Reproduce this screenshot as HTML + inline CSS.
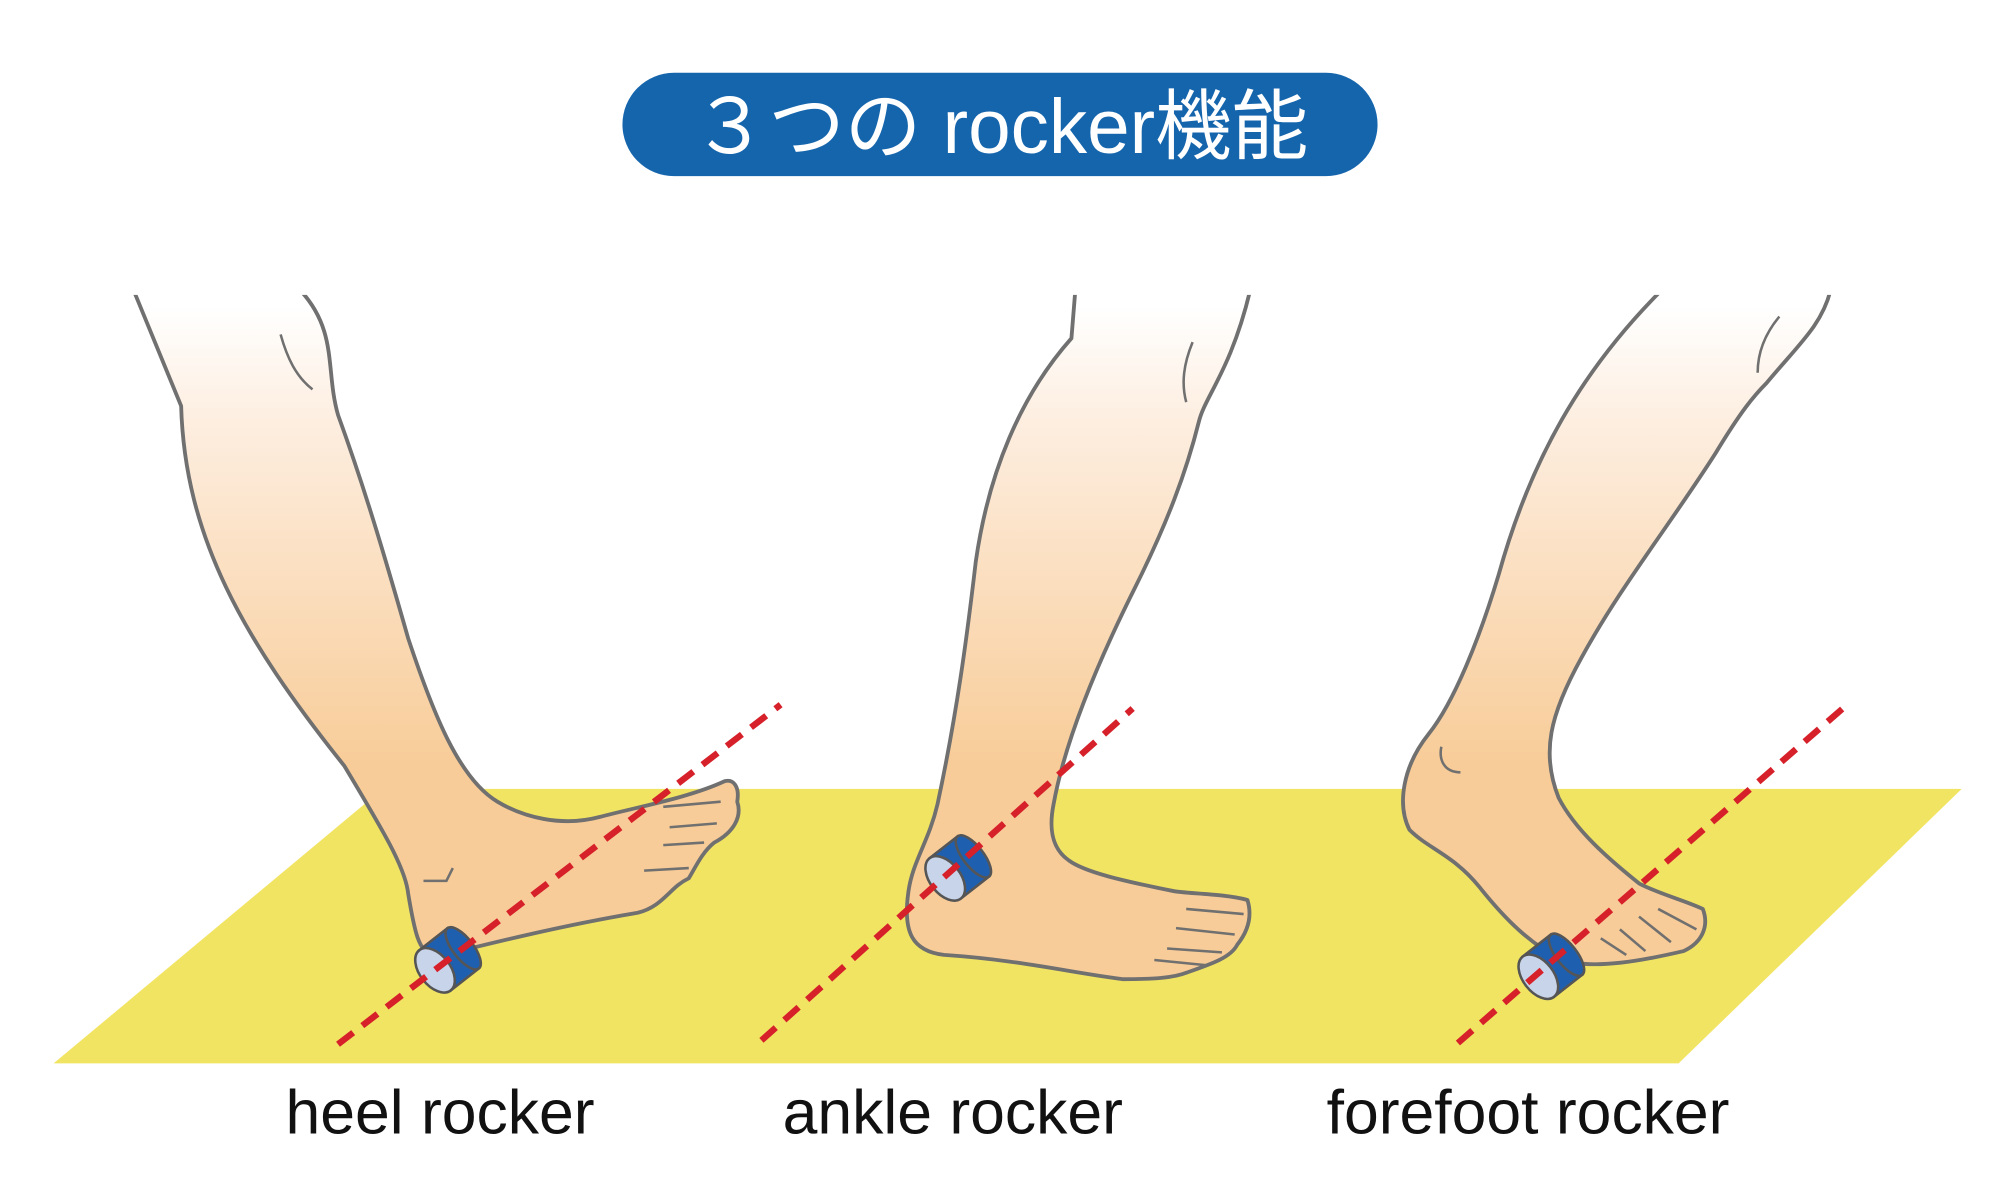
<!DOCTYPE html>
<html><head><meta charset="utf-8"><style>
html,body{margin:0;padding:0;background:#fff;}
svg{display:block;}
</style></head><body>
<svg width="2000" height="1200" viewBox="0 0 1568 940" preserveAspectRatio="none" xmlns="http://www.w3.org/2000/svg">
<defs>
<linearGradient id="g" gradientUnits="userSpaceOnUse" x1="0" y1="240" x2="0" y2="600">
<stop offset="0" stop-color="#ffffff"/>
<stop offset="0.25" stop-color="#fdeee0"/>
<stop offset="1" stop-color="#f8cc98"/>
</linearGradient>
</defs>
<rect width="1568" height="940" fill="#fff"/>
<rect x="488" y="57" width="592" height="81" rx="40.5" fill="#1565ad"/>
<text x="784" y="120" text-anchor="middle" fill="#fff" font-family="Liberation Sans, Noto Sans CJK JP, sans-serif" font-size="60">３つの rocker機能</text>
<polygon points="42,833 300,618 1538,618 1316,833" fill="#f2e463"/>

<g fill="url(#g)" stroke="#707070" stroke-width="3" stroke-linejoin="round">
<path d="M105,228 L142,318 C145,420 190,500 270,600 C300,650 318,680 320,700 C325,730 328,745 340,750 C380,740 440,725 500,715 C520,710 525,695 540,688 C545,680 550,668 560,660 C575,652 582,640 578,628 C580,616 575,610 568,612 C540,625 500,632 470,640 C440,648 410,640 390,628 C360,610 340,560 320,500 C300,430 285,380 265,325 C255,290 265,260 236,228 Z"/>
<path d="M843,228 L840,265 C800,310 775,370 765,440 C758,500 750,560 735,630 C728,660 715,675 712,700 C708,730 715,745 740,748 C800,752 840,762 880,767 C905,767 920,766 930,762 C950,755 965,750 970,740 C978,730 982,718 978,705 C960,700 930,700 920,698 C880,690 850,683 838,674 C825,665 822,650 826,630 C835,580 860,520 890,460 C915,410 930,370 940,330 C945,310 965,290 980,228 Z"/>
<path d="M1302,228 C1240,290 1200,360 1175,450 C1160,500 1140,550 1120,575 C1100,600 1095,630 1105,650 C1120,665 1140,670 1160,695 C1180,720 1200,740 1225,752 C1250,760 1290,752 1320,745 C1335,738 1340,725 1335,712 C1320,705 1300,700 1285,692 C1260,672 1235,650 1222,625 C1208,590 1215,560 1240,515 C1270,460 1310,410 1345,355 C1365,322 1375,310 1385,300 C1410,270 1428,255 1435,228 Z"/>
</g>
<rect x="90" y="210" width="1380" height="21" fill="#fff"/>
<g fill="none" stroke="#707070" stroke-width="2">
<path d="M220,262 C225,280 232,295 245,305"/>
<path d="M935,268 C928,285 926,300 930,315"/>
<path d="M1395,248 C1385,260 1378,275 1378,292"/>
<path d="M332,690 L350,690 L355,680"/>
<path d="M1130,585 C1128,595 1132,605 1145,605"/>
<path d="M520,632 L565,628 M525,648 L562,645 M520,662 L552,660 M505,682 L540,680"/>
<path d="M930,712 L975,716 M922,727 L968,732 M915,743 L958,746 M905,752 L945,756"/>
<path d="M1255,735 L1275,748 M1270,728 L1290,745 M1285,718 L1310,738 M1300,712 L1330,728"/>
</g>
<g transform="translate(345,757) rotate(-38)">
<rect x="-5" y="-20" width="28" height="40" fill="#1f5fb0" stroke="#555" stroke-width="2"/>
<ellipse cx="23" cy="0" rx="8" ry="20" fill="#1f5fb0" stroke="#555" stroke-width="2"/>
<ellipse cx="-5" cy="0" rx="12" ry="20" fill="#c8d4ea" stroke="#555" stroke-width="2"/>
</g>
<g transform="translate(745,685) rotate(-38)">
<rect x="-5" y="-20" width="28" height="40" fill="#1f5fb0" stroke="#555" stroke-width="2"/>
<ellipse cx="23" cy="0" rx="8" ry="20" fill="#1f5fb0" stroke="#555" stroke-width="2"/>
<ellipse cx="-5" cy="0" rx="12" ry="20" fill="#c8d4ea" stroke="#555" stroke-width="2"/>
</g>
<g transform="translate(1210,762) rotate(-38)">
<rect x="-5" y="-20" width="28" height="40" fill="#1f5fb0" stroke="#555" stroke-width="2"/>
<ellipse cx="23" cy="0" rx="8" ry="20" fill="#1f5fb0" stroke="#555" stroke-width="2"/>
<ellipse cx="-5" cy="0" rx="12" ry="20" fill="#c8d4ea" stroke="#555" stroke-width="2"/>
</g>
<g stroke="#d6202a" stroke-width="5" stroke-dasharray="15 9">
<line x1="265" y1="818" x2="612" y2="552"/>
<line x1="597" y1="815" x2="888" y2="555"/>
<line x1="1143" y1="817" x2="1447" y2="553"/>
</g>
<g font-family="Liberation Sans, sans-serif" font-size="49" fill="#111" text-anchor="middle">
<text x="345" y="888">heel rocker</text>
<text x="747" y="888">ankle rocker</text>
<text x="1198" y="888">forefoot rocker</text>
</g>
</svg>
</body></html>
